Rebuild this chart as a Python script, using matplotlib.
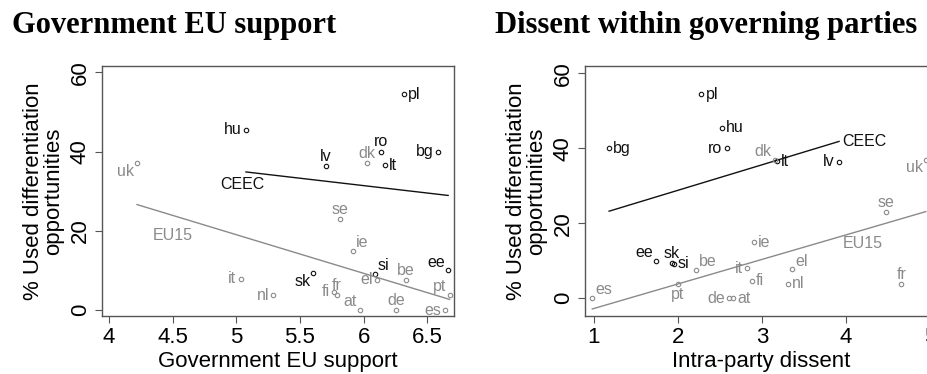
import numpy as np
import matplotlib
matplotlib.use("Agg")
import matplotlib.pyplot as plt

plt.rcParams['font.family'] = ['Liberation Sans', 'DejaVu Sans']

# datos
paises = ['pl', 'hu', 'ro', 'bg', 'lv', 'lt', 'si', 'ee', 'sk',
          'uk', 'dk', 'se', 'ie', 'be', 'el', 'it', 'nl', 'fi', 'fr', 'at', 'de', 'es', 'pt']
grupo = ['CEEC'] * 9 + ['EU15'] * 14
apoyo_ue = [6.315, 5.076, 6.139, 6.585, 5.703, 6.165, 6.087, 6.664, 5.606,
            4.22, 6.026, 5.816, 5.92, 6.333, 6.105, 5.034, 5.29, 5.764, 5.79, 5.97, 6.253, 6.64, 6.675]
disenso = [2.278, 2.52, 2.58, 1.18, 3.917, 3.18, 1.95, 1.734, 1.93,
           4.95, 3.15, 4.48, 2.905, 2.214, 3.36, 2.825, 3.31, 2.88, 4.66, 2.66, 2.61, 0.98, 1.996]
usadas = [54.5, 45.5, 40.0, 40.0, 36.4, 36.6, 9.1, 10.0, 9.3,
          37.0, 37.0, 22.9, 14.9, 7.6, 7.7, 7.9, 3.8, 4.6, 3.7, 0.0, 0.0, 0.0, 3.8]

# posicion de las etiquetas (reloj, estilo Stata)
reloj_izq = {'pl': 3, 'hu': 9, 'ro': 12, 'bg': 9, 'lv': 12, 'lt': 3, 'si': 2, 'ee': 11, 'sk': 8,
             'uk': 8, 'dk': 12, 'se': 12, 'ie': 2, 'be': 12, 'el': 9, 'it': 9, 'nl': 9, 'fi': 9,
             'fr': 12, 'at': 11, 'de': 12, 'es': 9, 'pt': 11}
reloj_der = {'pl': 3, 'hu': 3, 'ro': 9, 'bg': 3, 'lv': 9, 'lt': 3, 'si': 3, 'ee': 11, 'sk': 12,
             'uk': 8, 'dk': 11, 'se': 12, 'ie': 3, 'be': 2, 'el': 2, 'it': 9, 'nl': 3, 'fi': 3,
             'fr': 12, 'at': 3, 'de': 9, 'es': 2, 'pt': 6}

colores = {'CEEC': '#111111', 'EU15': '#8a8a8a'}
offsets = {3: (3, 0, 'left', 'center'), 9: (-3, 0, 'right', 'center'),
           12: (0, 1.5, 'center', 'bottom'), 6: (0, -2, 'center', 'top'),
           2: (2, 0.5, 'left', 'bottom'), 11: (-2, 0.5, 'right', 'bottom'),
           8: (-2, -0.5, 'right', 'top')}


def panel(ax, xs, reloj, etiquetas):
    xs = np.array(xs)
    ys = np.array(usadas)
    g = np.array(grupo)
    for nombre in ['CEEC', 'EU15']:
        m = g == nombre
        c = colores[nombre]
        ax.plot(xs[m], ys[m], 'o', ms=3.2, mfc='none', mec=c, mew=0.8)
        # recta de ajuste
        b, a = np.polyfit(xs[m], ys[m], 1)
        xx = np.array([xs[m].min(), xs[m].max()])
        ax.plot(xx, a + b * xx, color=c, lw=1.0)
        tx, ty, ha = etiquetas[nombre]
        ax.text(tx, ty, nombre, color=c, fontsize=11.5, ha=ha, va='center')
    for p, x, y, gr in zip(paises, xs, ys, grupo):
        dx, dy, ha, va = offsets[reloj[p]]
        ax.annotate(p, (x, y), xytext=(dx, dy), textcoords='offset points',
                    ha=ha, va=va, fontsize=11.5, color=colores[gr])
    ax.set_yticks([0, 20, 40, 60])
    ax.tick_params(axis='y', labelrotation=90, labelsize=16, length=5, pad=3, color='#555555')
    ax.tick_params(axis='x', labelsize=16, length=5, pad=3, color='#555555')
    for lab in ax.get_yticklabels():
        lab.set_va('center')
    for s in ax.spines.values():
        s.set_color('#555555')
        s.set_linewidth(1.0)
    ax.set_ylabel('% Used differentiation\nopportunities', fontsize=16, linespacing=0.95, labelpad=4)


fig = plt.figure(figsize=(9.27, 3.74), dpi=100)
ax1 = fig.add_axes([102 / 927, 58 / 374, 352 / 927, 250 / 374])
ax2 = fig.add_axes([585 / 927, 58 / 374, 352 / 927, 250 / 374])

panel(ax1, apoyo_ue, reloj_izq, {'CEEC': (5.05, 31.7, 'center'), 'EU15': (4.5, 18.7, 'center')})
ax1.set_xlim(3.945, 6.71)
ax1.set_ylim(-1.5, 61.6)
ax1.set_xticks([4, 4.5, 5, 5.5, 6, 6.5])
ax1.set_xticklabels(['4', '4.5', '5', '5.5', '6', '6.5'])
ax1.set_xlabel('Government EU support', fontsize=16, labelpad=2)

panel(ax2, disenso, reloj_der, {'CEEC': (3.95, 41.8, 'left'), 'EU15': (4.2, 14.7, 'center')})
ax2.set_xlim(0.893, 5.083)
ax2.set_ylim(-4.8, 62)
ax2.set_xticks([1, 2, 3, 4, 5])
ax2.set_xlabel('Intra-party dissent', fontsize=16, labelpad=2)

fig.text(12 / 927, 1 - 33 / 374, 'Government EU support', family='Liberation Serif',
         fontweight='bold', fontsize=22, va='baseline')
fig.text(495 / 927, 1 - 33 / 374, 'Dissent within governing parties', family='Liberation Serif',
         fontweight='bold', fontsize=22, va='baseline')

fig.savefig('out.png', dpi=100)
